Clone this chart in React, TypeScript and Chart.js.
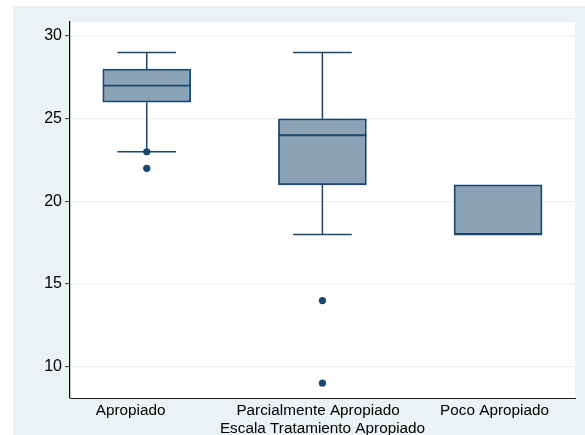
import React, { useEffect, useRef } from 'react';
import { Chart, registerables } from 'chart.js';

Chart.register(...registerables);

const categories = ['Apropiado', 'Parcialmente Apropiado', 'Poco Apropiado'];
const positions = [1, 2, 3];
const labelPositions = [0.908, 1.975, 2.98];
const lowerWhisker = [23, 18, 18];
const q1 = [26, 21, 18];
const median = [27, 24, 18];
const q3 = [28, 25, 21];
const upperWhisker = [29, 29, 21];
const outlierGroup = [1, 1, 2, 2];
const outlierValue = [23, 22, 14, 9];
const yTicks = [10, 15, 20, 25, 30];
const xTitle = 'Escala Tratamiento Apropiado';

const NAVY = '#1a476f';
const BOX_FILL = '#8ca3b7';
const BG = '#eaf2f3';
const FONT = '"Liberation Sans", Arial, Helvetica, sans-serif';

const backgroundPlugin = {
  id: 'stataBackground',
  beforeDraw(chart: any) {
    const { ctx, chartArea, width, height } = chart;
    ctx.save();
    ctx.fillStyle = '#ffffff';
    ctx.fillRect(0, 0, width, height);
    ctx.fillStyle = BG;
    ctx.fillRect(13, 6, width - 13, height - 6);
    ctx.fillStyle = '#ffffff';
    ctx.fillRect(chartArea.left, chartArea.top, chartArea.right - chartArea.left, chartArea.bottom - chartArea.top);
    ctx.restore();
  },
};

const boxPlugin = {
  id: 'boxWhiskers',
  beforeDatasetsDraw(chart: any) {
    const meta = chart.getDatasetMeta(0);
    const ys = chart.scales.y;
    const ctx = chart.ctx;
    ctx.save();
    ctx.strokeStyle = NAVY;
    ctx.lineWidth = 1.5;
    meta.data.forEach((el: any, i: number) => {
      const { x, width } = el.getProps(['x', 'width'], true);
      const capHalf = width / 3;
      const pairs: [number, number][] = [
        [q3[i], upperWhisker[i]],
        [q1[i], lowerWhisker[i]],
      ];
      pairs.forEach(([from, to]) => {
        if (from === to) return;
        const y0 = ys.getPixelForValue(from);
        const y1 = ys.getPixelForValue(to);
        ctx.beginPath();
        ctx.moveTo(x, y0);
        ctx.lineTo(x, y1);
        ctx.stroke();
        ctx.beginPath();
        ctx.moveTo(x - capHalf, y1);
        ctx.lineTo(x + capHalf, y1);
        ctx.stroke();
      });
    });
    ctx.restore();
  },
  afterDatasetsDraw(chart: any) {
    const meta = chart.getDatasetMeta(0);
    const ys = chart.scales.y;
    const ctx = chart.ctx;
    ctx.save();
    ctx.strokeStyle = NAVY;
    ctx.lineWidth = 1.8;
    meta.data.forEach((el: any, i: number) => {
      const { x, width } = el.getProps(['x', 'width'], true);
      const ym = ys.getPixelForValue(median[i]);
      ctx.beginPath();
      ctx.moveTo(x - width / 2, ym);
      ctx.lineTo(x + width / 2, ym);
      ctx.stroke();
    });
    ctx.restore();
  },
};

export default function App() {
  const ref = useRef<HTMLCanvasElement | null>(null);

  useEffect(() => {
    document.body.style.margin = '0';
    const canvas = ref.current;
    if (!canvas) return;
    const chart = new Chart(canvas, {
      type: 'bar',
      data: {
        datasets: [
          {
            type: 'bar',
            data: positions.map((p, i) => ({ x: p, y: [q1[i], q3[i]] })) as any,
            backgroundColor: BOX_FILL,
            borderColor: NAVY,
            borderWidth: 1.8,
            borderSkipped: false,
            barThickness: 88,
          } as any,
          {
            type: 'scatter',
            data: outlierGroup.map((g, i) => ({ x: g, y: outlierValue[i] })),
            backgroundColor: NAVY,
            borderColor: NAVY,
            borderWidth: 0,
            pointRadius: 3.6,
            showLine: false,
          } as any,
        ],
      },
      options: {
        responsive: false,
        animation: false,
        events: [],
        devicePixelRatio: 1,
        layout: { padding: { left: 0, top: 22, right: 10, bottom: 0 } },
        plugins: {
          legend: { display: false },
          tooltip: { enabled: false },
        },
        scales: {
          x: {
            type: 'linear',
            offset: false,
            min: 0.563,
            max: 3.438,
            afterBuildTicks: (scale: any) => {
              scale.ticks = labelPositions.map((v) => ({ value: v }));
            },
            afterFit: (scale: any) => {
              scale.height = 37;
            },
            grid: { display: false, drawTicks: false, offset: false },
            border: { display: true, color: '#222', width: 1 },
            ticks: {
              padding: 4,
              color: '#000',
              font: { family: FONT, size: 15.3 },
              maxRotation: 0,
              autoSkip: false,
              callback: (value: any) => {
                const i = labelPositions.indexOf(Number(value));
                return i >= 0 ? categories[i] : '';
              },
            },
            title: {
              display: true,
              text: xTitle,
              color: '#000',
              font: { family: FONT, size: 15.3 },
              padding: { top: 0, bottom: -3 },
            },
          },
          y: {
            type: 'linear',
            min: 8.105,
            max: 30.85,
            afterBuildTicks: (scale: any) => {
              scale.ticks = yTicks.map((v) => ({ value: v }));
            },
            afterFit: (scale: any) => {
              scale.width = 70;
            },
            grid: {
              display: true,
              color: BG,
              lineWidth: 1.2,
              drawTicks: true,
              tickLength: 5,
              tickColor: '#333',
              tickWidth: 1,
            },
            border: { display: true, color: '#000', width: 1.2 },
            ticks: {
              padding: 3,
              color: '#000',
              font: { family: FONT, size: 16 },
            },
          },
        },
      },
      plugins: [backgroundPlugin, boxPlugin],
    });
    return () => chart.destroy();
  }, []);

  return <canvas ref={ref} width={585} height={435} style={{ display: 'block' }} />;
}
